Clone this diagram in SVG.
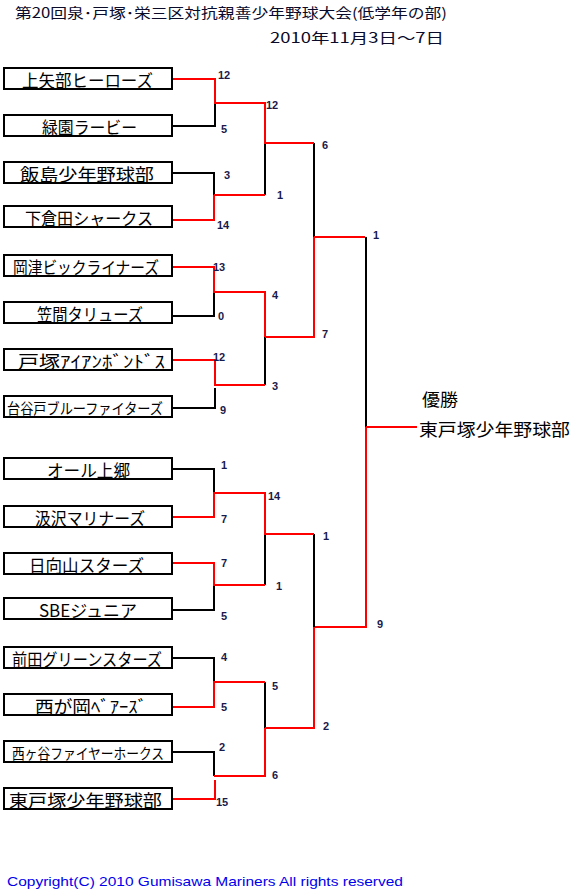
<svg xmlns="http://www.w3.org/2000/svg" width="576" height="890" viewBox="0 0 576 890">
<style>
.bg{fill:#fff}
.box rect{fill:#fff;stroke:#000;stroke-width:2}
.box text{font-family:"Noto Sans CJK JP","Noto Sans CJK SC",sans-serif;font-size:17px;fill:#000;dominant-baseline:central}
.box text.sm{font-size:15px}
.r{fill:none;stroke:#ff0000;stroke-width:2}
.k{fill:none;stroke:#000;stroke-width:2}
.s{font-family:"Liberation Sans",Arial,sans-serif;font-weight:bold;font-size:11px;fill:#1a1a4a}
.t{font-family:"Noto Sans CJK JP","Noto Sans CJK SC",sans-serif;font-size:14px;fill:#0a0a2a}
.w{font-family:"Noto Sans CJK JP","Noto Sans CJK SC",sans-serif;font-size:17px;fill:#000;dominant-baseline:central}
.c{font-family:"Liberation Sans",Arial,sans-serif;font-size:13px;fill:#0000ee}
</style>
<rect class="bg" x="0" y="0" width="576" height="890"/>
<g id="title">
<text class="t" x="15" y="18" textLength="432" lengthAdjust="spacingAndGlyphs">第20回泉･戸塚･栄三区対抗親善少年野球大会(低学年の部)</text>
<text class="t" x="270" y="43" textLength="174" lengthAdjust="spacingAndGlyphs">2010年11月3日～7日</text>
</g>
<g id="connectors">
<path class="k" d="M173 126H215V103M265 103V195M173 173H214V195M314 143V237M265 337V385M173 316H214V292M173 408H215V388M366 237V427"/>
<path class="r" d="M173 79H215V103H265V143H314M214 195H265M173 220H214V195M314 237H365M314 237V337H265M173 267H214V292H265V337M173 360H215V385H265M366 427H417M366 427V627H314"/>
<path class="k" d="M173 469H214V493M265 534V585M173 610H214V585M314 534V627M173 658H214V682M265 682V728M173 752H214V776"/>
<path class="r" d="M173 517H214V493H265V534H314M173 563H214V585H265M314 627V728H265M173 707H214V682H265M265 728V776H214M173 799H215V780"/>
</g>
<g id="n1" class="box"><rect x="4" y="68" width="168" height="21"/><text x="22" y="79" textLength="131" lengthAdjust="spacingAndGlyphs">上矢部ヒーローズ</text></g>
<g id="n2" class="box"><rect x="4" y="115" width="168" height="21"/><text x="42" y="126" textLength="95" lengthAdjust="spacingAndGlyphs">緑園ラービー</text></g>
<g id="n3" class="box"><rect x="4" y="162" width="168" height="21"/><text x="20" y="173" textLength="134" lengthAdjust="spacingAndGlyphs">飯島少年野球部</text></g>
<g id="n4" class="box"><rect x="4" y="206" width="168" height="21"/><text x="25" y="217" textLength="128" lengthAdjust="spacingAndGlyphs">下倉田シャークス</text></g>
<g id="n5" class="box"><rect x="4" y="255" width="168" height="21"/><text x="13" y="266" textLength="146" lengthAdjust="spacingAndGlyphs">岡津ビックライナーズ</text></g>
<g id="n6" class="box"><rect x="4" y="302" width="168" height="21"/><text x="37" y="313" textLength="106" lengthAdjust="spacingAndGlyphs">笠間タリューズ</text></g>
<g id="n7" class="box"><rect x="4" y="349" width="168" height="21"/><text x="18" y="360" textLength="147" lengthAdjust="spacingAndGlyphs">戸塚ｱｲｱﾝﾎﾞﾝﾄﾞｽ</text></g>
<g id="n8" class="box"><rect x="4" y="396" width="168" height="21"/><text class="sm" x="7" y="407" textLength="156" lengthAdjust="spacingAndGlyphs">台谷戸ブルーファイターズ</text></g>
<g id="n9" class="box"><rect x="4" y="458" width="168" height="21"/><text x="47" y="469" textLength="83" lengthAdjust="spacingAndGlyphs">オール上郷</text></g>
<g id="n10" class="box"><rect x="4" y="506" width="168" height="21"/><text x="35" y="517" textLength="110" lengthAdjust="spacingAndGlyphs">汲沢マリナーズ</text></g>
<g id="n11" class="box"><rect x="4" y="553" width="168" height="21"/><text x="29" y="564" textLength="115" lengthAdjust="spacingAndGlyphs">日向山スターズ</text></g>
<g id="n12" class="box"><rect x="4" y="598" width="168" height="21"/><text x="39" y="609" textLength="98" lengthAdjust="spacingAndGlyphs">SBEジュニア</text></g>
<g id="n13" class="box"><rect x="4" y="647" width="168" height="21"/><text x="12" y="658" textLength="150" lengthAdjust="spacingAndGlyphs">前田グリーンスターズ</text></g>
<g id="n14" class="box"><rect x="4" y="694" width="168" height="21"/><text x="35" y="705" textLength="112" lengthAdjust="spacingAndGlyphs">西が岡ﾍﾞｱｰｽﾞ</text></g>
<g id="n15" class="box"><rect x="4" y="741" width="168" height="21"/><text class="sm" x="12" y="752" textLength="152" lengthAdjust="spacingAndGlyphs">西ヶ谷ファイヤーホークス</text></g>
<g id="n16" class="box"><rect x="4" y="788" width="168" height="21"/><text x="9" y="799" textLength="153" lengthAdjust="spacingAndGlyphs">東戸塚少年野球部</text></g>
<g id="winner">
<text class="w" x="422" y="398" textLength="36" lengthAdjust="spacingAndGlyphs">優勝</text>
<text class="w" x="419" y="428" textLength="151" lengthAdjust="spacingAndGlyphs">東戸塚少年野球部</text>
</g>
<g id="scores">
<text class="s" x="218" y="79">12</text>
<text class="s" x="221" y="133">5</text>
<text class="s" x="266" y="109">12</text>
<text class="s" x="224" y="179">3</text>
<text class="s" x="277" y="199">1</text>
<text class="s" x="217" y="229">14</text>
<text class="s" x="322" y="149">6</text>
<text class="s" x="322" y="338">7</text>
<text class="s" x="373" y="239">1</text>
<text class="s" x="213" y="271">13</text>
<text class="s" x="218" y="320">0</text>
<text class="s" x="272" y="299">4</text>
<text class="s" x="213" y="361">12</text>
<text class="s" x="272" y="390">3</text>
<text class="s" x="220" y="414">9</text>
<text class="s" x="221" y="469">1</text>
<text class="s" x="221" y="523">7</text>
<text class="s" x="268" y="500">14</text>
<text class="s" x="221" y="567">7</text>
<text class="s" x="276" y="590">1</text>
<text class="s" x="221" y="620">5</text>
<text class="s" x="323" y="540">1</text>
<text class="s" x="377" y="628">9</text>
<text class="s" x="323" y="730">2</text>
<text class="s" x="221" y="661">4</text>
<text class="s" x="221" y="711">5</text>
<text class="s" x="272" y="690">5</text>
<text class="s" x="219" y="751">2</text>
<text class="s" x="272" y="779">6</text>
<text class="s" x="216" y="806">15</text>
</g>
<text class="c" x="7" y="886" textLength="396" lengthAdjust="spacingAndGlyphs">Copyright(C) 2010 Gumisawa Mariners All rights reserved</text>
</svg>
